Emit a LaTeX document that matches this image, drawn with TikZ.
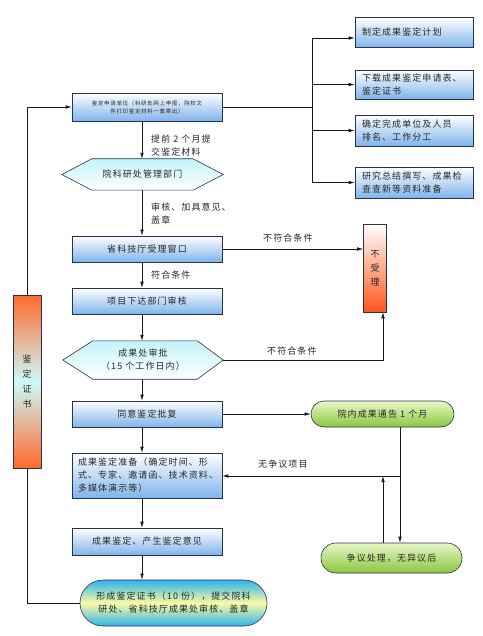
\documentclass[tikz,border=0pt]{standalone}
\usepackage{fontspec}
\setmainfont{Noto Sans CJK SC}[LetterSpace=12]
\usetikzlibrary{arrows.meta,calc,backgrounds}
\definecolor{lineC}{RGB}{25,25,25}
\definecolor{boxB}{RGB}{128,180,236}
\definecolor{boxEdge}{RGB}{40,50,75}
\definecolor{hexC}{RGB}{195,243,248}
\definecolor{redO}{RGB}{255,85,25}
\definecolor{orgC}{RGB}{255,105,45}
\definecolor{cyanL}{RGB}{205,250,250}
\definecolor{grnT}{RGB}{232,247,198}
\definecolor{grnB}{RGB}{140,198,63}
\definecolor{ovT}{RGB}{45,180,235}
\definecolor{ovM}{RGB}{250,250,165}
\definecolor{txtC}{RGB}{40,40,40}
\begin{document}
\begin{tikzpicture}[x=1pt,y=-1pt,
  font=\fontsize{9}{13}\selectfont,
  every node/.style={text=txtC},
  bluebox/.style={draw=boxEdge,line width=0.6pt,top color=white,bottom color=boxB,minimum width=150pt,inner sep=2pt,align=center},
  sidebox/.style={draw=boxEdge,line width=0.6pt,top color=white,bottom color=boxB,minimum width=118pt,text width=104pt,align=left,inner xsep=7pt,inner ysep=2pt},
  hexnode/.style={minimum width=161pt,inner sep=0pt,align=center},
  hexshape/.style={draw=boxEdge,line width=0.6pt,top color=hexC,bottom color=white},
  redbox/.style={draw=boxEdge,line width=0.6pt,top color=white,bottom color=redO,minimum width=23pt,minimum height=88pt,inner sep=1pt,align=center},
  certbox/.style={draw=boxEdge,line width=0.6pt,top color=orgC,bottom color=orgC,middle color=cyanL,minimum width=28pt,minimum height=173pt,inner sep=1pt,align=center},
  ovalG/.style={draw=boxEdge,line width=0.6pt,top color=grnT,bottom color=grnB,inner sep=2pt,align=center},
  ovalB/.style={draw=boxEdge,line width=0.6pt,top color=ovT,bottom color=ovT,middle color=ovM,inner sep=2pt,align=center},
  arr/.style={-{Latex[length=6pt,width=3.5pt]},line width=0.6pt,draw=lineC},
  ln/.style={line width=0.6pt,draw=lineC},
  lbl/.style={inner sep=0pt,anchor=west,align=left}
]
\useasboundingbox (0,0) rectangle (482,636);

% main column
\node[bluebox,minimum height=28pt,font=\fontsize{5.5}{8}\selectfont] (b1) at (147,107) {鉴定申请单位（科研处网上申报，院校文\\件打印鉴定材料一套寄出）};
\node[hexnode,minimum height=31pt] (h1) at (142.5,174.5) {院科研处管理部门};
\node[bluebox,minimum height=26pt] (b2) at (147,249) {省科技厅受理窗口};
\node[bluebox,minimum height=26pt] (b3) at (147,301) {项目下达部门审核};
\node[hexnode,minimum width=160pt,minimum height=38pt] (h2) at (143,360) {成果处审批\\（15 个工作日内）};
\node[bluebox,minimum height=26pt] (b4) at (147,414) {同意鉴定批复};
\node[bluebox,minimum height=45pt,text width=138pt,align=left,inner xsep=6pt] (b5) at (147,475.5) {成果鉴定准备（确定时间、形\\式、专家、邀请函、技术资料、\\多媒体演示等）};
\node[bluebox,minimum height=27pt] (b6) at (147,541.5) {成果鉴定、产生鉴定意见};
\node[ovalB,minimum width=187pt,minimum height=46pt,rounded corners=23pt] (o3) at (173.5,603) {形成鉴定证书（10 份），提交院科\\研处、省科技厅成果处审核、盖章};

% right side
\node[sidebox,minimum height=30pt] (r1) at (414,32.5) {制定成果鉴定计划};
\node[sidebox,minimum height=29pt] (r2) at (414,84.5) {下载成果鉴定申请表、\\鉴定证书};
\node[sidebox,minimum height=31pt] (r3) at (414,130.5) {确定完成单位及人员\\排名、工作分工};
\node[sidebox,minimum height=31pt] (r4) at (414,182.5) {研究总结撰写、成果检\\查查新等资料准备};

\node[redbox] (nb) at (375,268) {不\\[1pt]受\\[1pt]理};
\node[certbox] (cz) at (27,381.5) {鉴\\[2pt]定\\[2pt]证\\[2pt]书};

\node[ovalG,minimum width=143pt,minimum height=26pt,rounded corners=13pt] (o1) at (382.5,414) {院内成果通告 1 个月};
\node[ovalG,minimum width=141pt,minimum height=30pt,rounded corners=15pt] (o2) at (391.5,558) {争议处理，无异议后};

% labels
\node[lbl] (l1) at (151,146) {提前 2 个月提\\交鉴定材料};
\node[lbl] (l2) at (151,214) {审核、加具意见、\\盖章};
\node[lbl] (l3) at (151,275) {符合条件};
\node[lbl] (l4) at (263,238) {不符合条件};
\node[lbl] (l5) at (267,351) {不符合条件};
\node[lbl] (l6) at (258,464) {无争议项目};

% helper coordinates
\coordinate (sp) at (142,0);
\coordinate (bus) at (312,0);
\coordinate (a1) at (312,38);
\coordinate (xr) at (383,0);
\coordinate (xd) at (400,0);
\coordinate (hz) at (400,476);

% background and hexagons
\begin{scope}[on background layer]
\fill[white] (0,0) rectangle (482,636);
\path[hexshape] (h1.west) -- ([xshift=30pt]h1.north west) -- ([xshift=-30pt]h1.north east) -- (h1.east) -- ([xshift=-30pt]h1.south east) -- ([xshift=30pt]h1.south west) -- cycle;
\path[hexshape] (h2.west) -- ([xshift=30pt]h2.north west) -- ([xshift=-26pt]h2.north east) -- (h2.east) -- ([xshift=-26pt]h2.south east) -- ([xshift=30pt]h2.south west) -- cycle;
\end{scope}

% spine
\draw[arr] (b1.south -| sp) -- (h1.north -| sp);
\draw[arr] (h1.south -| sp) -- (b2.north -| sp);
\draw[arr] (b2.south -| sp) -- (b3.north -| sp);
\draw[arr] (b3.south -| sp) -- (h2.north -| sp);
\draw[arr] (h2.south -| sp) -- (b4.north -| sp);
\draw[arr] (b4.south -| sp) -- (b5.north -| sp);
\draw[arr] (b5.south -| sp) -- (b6.north -| sp);
\draw[arr] (b6.south -| sp) -- (o3.north -| sp);

% right branch
\draw[ln] (b1.east) -- (b1.east -| bus);
\draw[ln] (a1) -- (r4.west -| bus);
\draw[arr] (a1) -- (a1 -| r1.west);
\draw[arr] (r2.west -| bus) -- (r2.west);
\draw[arr] (r3.west -| bus) -- (r3.west);
\draw[arr] (r4.west -| bus) -- (r4.west);

% rejection
\draw[arr] (b2.east) -- (b2.east -| nb.west);
\draw[arr] (h2.east) -| (nb.south -| xr);

% certificate loop
\draw[arr] (cz.north) |- (b1.west);
\draw[ln] (cz.south) |- (o3.west);

% publicity loop
\draw[arr] (b4.east) -- (o1.west);
\draw[arr] (o1.south -| xd) -- (o2.north -| xd);
\draw[arr] (o2.north -| xr) -- (hz -| xr);
\draw[arr] (hz) -- (b5.east |- hz);
\end{tikzpicture}
\end{document}
